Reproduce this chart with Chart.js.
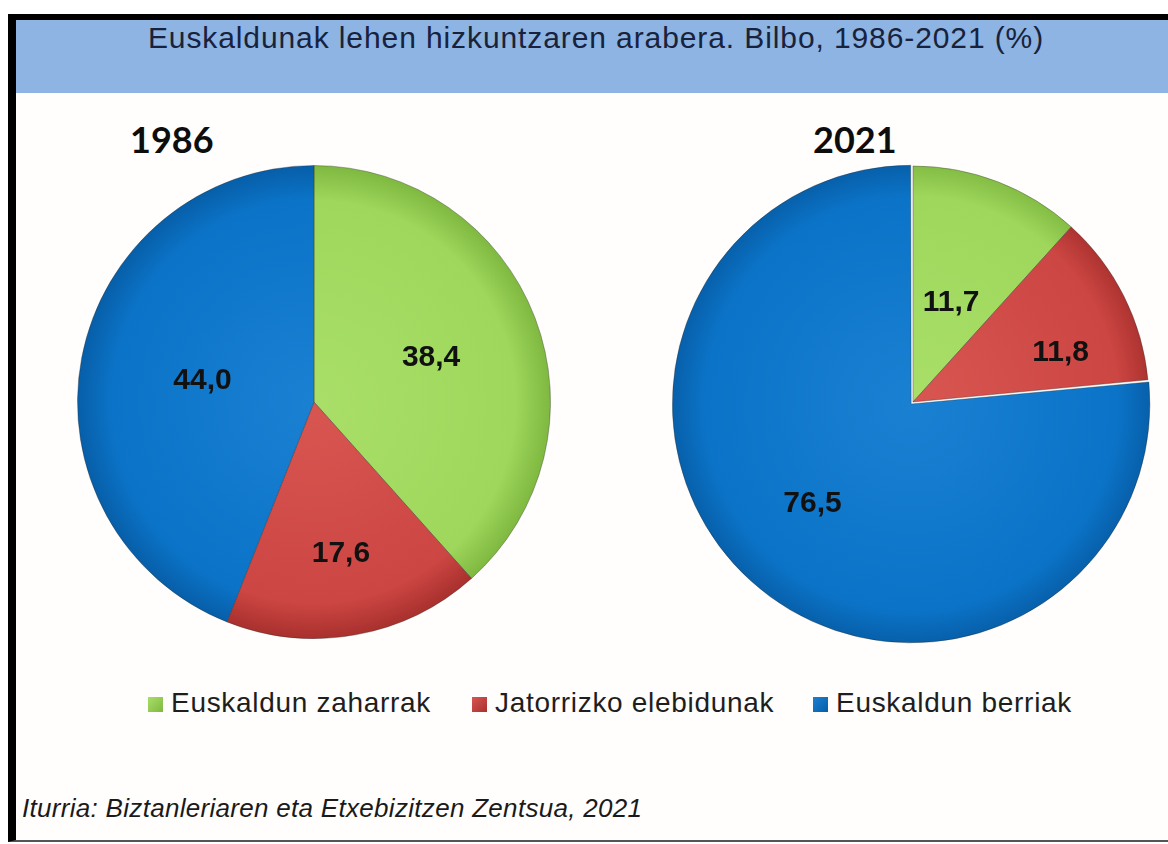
<!DOCTYPE html>
<html>
<head>
<meta charset="utf-8">
<script src="https://cdn.jsdelivr.net/npm/chart.js@4.4.1/dist/chart.umd.min.js"></script>
<style>
  body { margin: 0; background: #fff; }
  #page { position: relative; width: 1168px; height: 844px; overflow: hidden; background: #fff; }
  #frame { position: absolute; left: 8px; top: 14px; width: 1160px; height: 828px;
           border-left: 8px solid #000; border-top: 6px solid #000; border-bottom: 2px solid #555;
           background: #fffefc; box-sizing: border-box; }
  #header { position: absolute; left: 16px; top: 20px; width: 1152px; height: 73px; background: #8db4e2; }
  #title { position: absolute; left: 16px; top: 21px; width: 1160px; text-align: center; letter-spacing: 0.9px;
           font: 30px "Liberation Sans", Arial, sans-serif; color: #18223c; }
  .year { position: absolute; top: 117px; font: bold 36px Lato, sans-serif; color: #0d0d0d; }
  .pie { position: absolute; }
  #legend { position: absolute; top: 689px; left: 0; width: 1168px; height: 36px;
            font: 28px "Liberation Sans", Arial, sans-serif; line-height: 28px; letter-spacing: 0.7px; color: #1e1e1e; }
  .item { position: absolute; white-space: nowrap; }
  .box { display: inline-block; width: 15px; height: 15px; margin-right: 8px; vertical-align: 0px; }
  #source { position: absolute; left: 22px; top: 793px; line-height: 26px; letter-spacing: 0.3px;
            font: italic 26px "Liberation Sans", Arial, sans-serif; color: #1a1a1a; }
</style>
</head>
<body>
<div id="page">
  <div id="frame"></div>
  <div id="header"></div>
  <div id="title">Euskaldunak lehen hizkuntzaren arabera. Bilbo, 1986-2021 (%)</div>
  <div class="year" style="left:130px">1986</div>
  <div class="year" style="left:813px">2021</div>
  <div class="pie" style="left:77px; top:165px; width:474px; height:474px"><canvas id="pie1986" width="474" height="474"></canvas></div>
  <div class="pie" style="left:671px; top:160px; width:484px; height:484px"><canvas id="pie2021" width="484" height="484"></canvas></div>
  <div id="legend"></div>
  <div id="source">Iturria: Biztanleriaren eta Etxebizitzen Zentsua, 2021</div>
</div>
<script>
// datuak
const categories = ['Euskaldun zaharrak', 'Jatorrizko elebidunak', 'Euskaldun berriak'];
const values1986 = [38.4, 17.6, 44.0];
const values2021 = [11.7, 11.8, 76.5];

// koloreak: oinarria, argia, iluna
const colors = [
  ['#9fd75c', '#a9df68', '#7fb840'],
  ['#cc4643', '#d85651', '#a8302d'],
  ['#0b74c8', '#1a80d2', '#075ea8']
];

function sliceFill(ctx) {
  const chart = ctx.chart;
  const c = colors[ctx.dataIndex];
  const area = chart.chartArea;
  if (!area) return c[0];
  const cx = (area.left + area.right) / 2;
  const cy = (area.top + area.bottom) / 2;
  const r = Math.min(area.right - area.left, area.bottom - area.top) / 2;
  const g = chart.ctx.createRadialGradient(cx, cy, 0, cx, cy, r);
  g.addColorStop(0, c[1]);
  g.addColorStop(0.85, c[0]);
  g.addColorStop(1, c[2]);
  return g;
}

// balioak zatien barruan idatzi
const valueLabels = {
  id: 'valueLabels',
  afterDatasetsDraw(chart, args, opts) {
    const ctx = chart.ctx;
    const meta = chart.getDatasetMeta(0);
    const data = chart.data.datasets[0].data;
    ctx.save();
    ctx.font = 'bold 30px "Liberation Sans", Arial, sans-serif';
    ctx.fillStyle = '#111';
    ctx.textAlign = 'center';
    ctx.textBaseline = 'middle';
    meta.data.forEach(function(arc, i) {
      const p = arc.getProps(['x', 'y', 'startAngle', 'endAngle', 'outerRadius'], true);
      const mid = (p.startAngle + p.endAngle) / 2 + (opts.turn ? opts.turn[i] : 0);
      const off = arc.options.offset || 0;
      const d = p.outerRadius * opts.pos[i] + off;
      const x = p.x + Math.cos(mid) * d;
      const y = p.y + Math.sin(mid) * d;
      ctx.fillText(data[i].toFixed(1).replace('.', ','), x, y);
    });
    ctx.restore();
  }
};

function makePie(id, values, offsets, pos, turn) {
  return new Chart(document.getElementById(id), {
    type: 'pie',
    data: {
      labels: categories,
      datasets: [{
        data: values,
        backgroundColor: sliceFill,
        borderColor: 'rgba(40,40,40,0.35)',
        borderWidth: 1,
        hoverBorderWidth: 1,
        offset: offsets,
        hoverOffset: 0
      }]
    },
    options: {
      responsive: false,
      animation: false,
      layout: { padding: 0 },
      events: [],
      plugins: {
        legend: { display: false },
        tooltip: { enabled: false },
        valueLabels: { pos: pos, turn: turn }
      }
    },
    plugins: [valueLabels]
  });
}

makePie('pie1986', values1986, [0, 0, 0], [0.53, 0.65, 0.48], [0, 0, 0]);
makePie('pie2021', values2021, [0, 0, 11], [0.45, 0.66, 0.56], [0, 0.14, 0.04]);

// legenda
const legend = document.getElementById('legend');
const legendX = [148, 472, 813];
categories.forEach(function(name, i) {
  const item = document.createElement('div');
  item.className = 'item';
  item.style.left = legendX[i] + 'px';
  const box = document.createElement('span');
  box.className = 'box';
  box.style.background = 'linear-gradient(135deg,' + colors[i][1] + ',' + colors[i][2] + ')';
  item.appendChild(box);
  item.appendChild(document.createTextNode(name));
  legend.appendChild(item);
});
</script>
</body>
</html>
